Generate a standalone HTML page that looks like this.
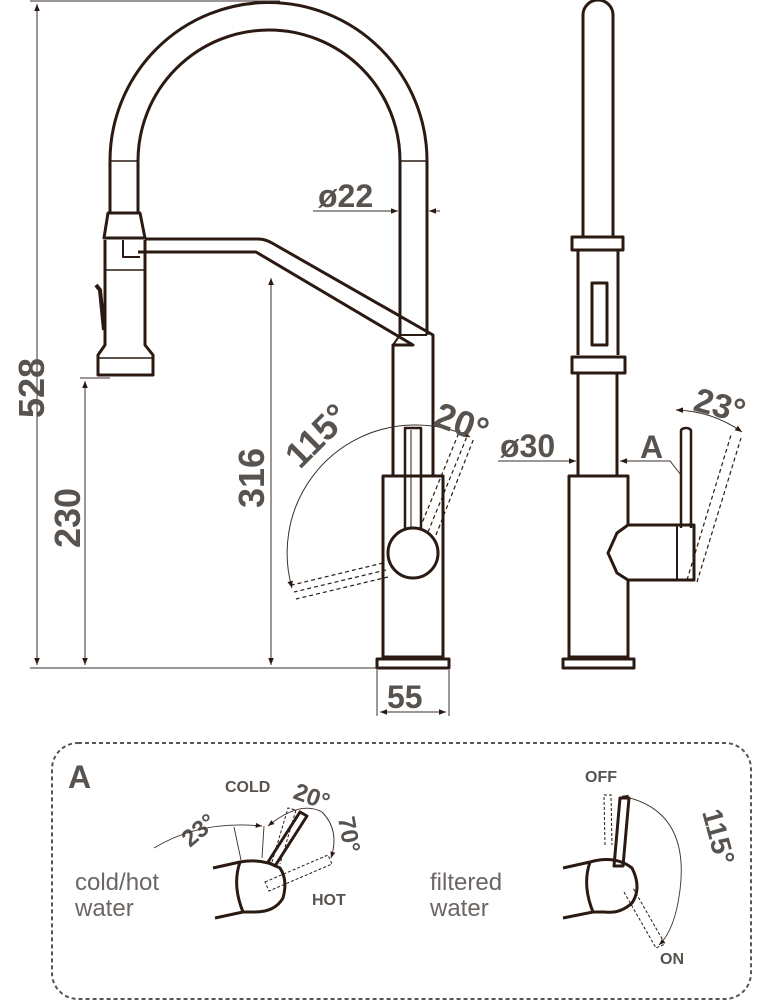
<!DOCTYPE html>
<html><head><meta charset="utf-8"><style>
html,body{margin:0;padding:0;background:#fff;}
svg{display:block;}
.t{font-family:"Liberation Sans",sans-serif;font-weight:bold;fill:#58534f;}
.n{font-family:"Liberation Sans",sans-serif;fill:#6b6663;}
</style></head><body>
<svg width="758" height="1003" viewBox="0 0 758 1003" xmlns="http://www.w3.org/2000/svg">
<defs>
<marker id="ar" viewBox="0 0 10 10" refX="10" refY="5" markerWidth="7" markerHeight="7" orient="auto-start-reverse"><path d="M0,1 L10,5 L0,9z" fill="#2a1a12"/></marker>
</defs>
<g fill="none" stroke="#2a1a12" stroke-width="3" stroke-linejoin="round">
<path d="M110,161 A158.5,158.5 0 0 1 427,161 L427,335"/>
<path d="M138,161 A131,131 0 0 1 400,161 L400,335"/>
<line x1="110" y1="161" x2="138" y2="161" stroke-width="1.5"/>
<line x1="400" y1="161" x2="427" y2="161" stroke-width="1.5"/>
<path d="M110,161 V213 M138,161 V213"/>
<path d="M108,213 H140 L145,238 H104 Z"/>
<path d="M105,240 V345 L98,355 V375 H153 V355 L145,345 V240"/>
<line x1="106" y1="270" x2="144" y2="270" stroke-width="1.5"/>
<line x1="99" y1="358" x2="152" y2="358" stroke-width="1.5"/>
<path d="M96,285 L100,290 L104,330" stroke-width="4"/>
<path d="M145,239 H258 Q265,239 272,243 L433,335 V476"/>
<path d="M138,252 H256 L413,345 L393,345 V476"/>
<path d="M393,345 L400,335 H427" stroke-width="2"/>
<path d="M123,240 V257 H140" stroke-width="2"/>
<path d="M383,476 H443 V657 H383 Z"/>
<path d="M377,659 H449 V668 H377 Z"/>
<circle cx="413" cy="553" r="25" fill="#fff"/>
<path d="M405,528 V428 H421 V528" stroke-width="2.5"/>
<line x1="411" y1="430" x2="411" y2="527" stroke-width="1"/>
<path d="M583,237 V15 A15,15 0 0 1 613,15 V237"/>
<path d="M572,237 H623 V250 H572 Z"/>
<path d="M578,250 V355 M618,250 V355"/>
<rect x="592" y="283" width="15" height="62"/>
<path d="M572,357 H625 V373 H572 Z"/>
<path d="M578,373 V476 M617,373 V476"/>
<path d="M628,525 V476 H569 V657 H628 V580"/>
<path d="M563,659 H634 V668 H563 Z"/>
<path d="M628,525 H694 V580 H628 L617,573 L608,553 L617,533 Z" fill="#fff"/>
<line x1="677" y1="526" x2="677" y2="579" stroke-width="2"/>
<path d="M681,528 V431 A5,3 0 0 1 691,431 V528" stroke-width="2.5"/>
</g>
<g fill="none" stroke="#2a1a12" stroke-width="1.2" stroke-dasharray="4,3">
<path d="M420,528 L460,430 M428,532 L468,434 M436,535 L474,438"/>
<path d="M383,563 L292,585 M386,570 L294,592 M388,577 L296,599"/>
<path d="M687,580 L731,435 M697,582 L741,438"/>
</g>
<g stroke="#3a2f2a" stroke-width="1" fill="none">
<line x1="30" y1="668" x2="380" y2="668"/>
<line x1="30" y1="1" x2="280" y2="1"/>
<line x1="37" y1="4" x2="37" y2="665" marker-start="url(#ar)" marker-end="url(#ar)"/>
<line x1="80" y1="378" x2="110" y2="378"/>
<line x1="85" y1="381" x2="85" y2="665" marker-start="url(#ar)" marker-end="url(#ar)"/>
<line x1="271" y1="278" x2="271" y2="665" marker-start="url(#ar)" marker-end="url(#ar)"/>
<line x1="377" y1="670" x2="377" y2="716"/><line x1="449" y1="670" x2="449" y2="716"/>
<line x1="380" y1="712" x2="446" y2="712" marker-start="url(#ar)" marker-end="url(#ar)"/>
<line x1="313" y1="211" x2="398" y2="211" marker-end="url(#ar)"/>
<line x1="440" y1="211" x2="429" y2="211" marker-end="url(#ar)"/>
<line x1="498" y1="461" x2="576" y2="461" marker-end="url(#ar)"/>
<line x1="640" y1="461" x2="620" y2="461" marker-end="url(#ar)"/>
<path d="M638,461 H670 L681,475"/>
<path d="M292,588 A128,128 0 0 1 413,425 A128,128 0 0 1 470,437" marker-start="url(#ar)" marker-end="url(#ar)"/>
<path d="M676,410 A120,120 0 0 1 742,432" marker-start="url(#ar)" marker-end="url(#ar)"/>
</g>
<text class="t" font-size="36" transform="translate(44,418) rotate(-90)">528</text>
<text class="t" font-size="36" transform="translate(80,548) rotate(-90)">230</text>
<text class="t" font-size="36" transform="translate(264,508) rotate(-90)">316</text>
<text class="t" font-size="36" transform="translate(300,470) rotate(-45)">115°</text>
<text class="t" font-size="36" transform="translate(432,425) rotate(20)">20°</text>
<text class="t" font-size="32" x="318" y="207">ø22</text>
<text class="t" font-size="32" x="387" y="708">55</text>
<text class="t" font-size="32" x="500" y="457">ø30</text>
<text class="t" font-size="32" x="640" y="458">A</text>
<text class="t" font-size="34" transform="translate(692,410) rotate(15)">23°</text>
<rect x="52" y="743" width="699" height="256" rx="26" fill="none" stroke="#555" stroke-width="2" stroke-dasharray="4,3"/>
<text class="t" font-size="32" x="68" y="788">A</text>
<text class="n" font-size="24" x="75" y="890">cold/hot</text>
<text class="n" font-size="24" x="75" y="916">water</text>
<text class="n" font-size="24" x="430" y="890">filtered</text>
<text class="n" font-size="24" x="430" y="916">water</text>
<text class="t" font-size="16" x="225" y="792">COLD</text>
<text class="t" font-size="16" x="312" y="905">HOT</text>
<text class="t" font-size="16" x="585" y="782">OFF</text>
<text class="t" font-size="16" x="660" y="964">ON</text>
<text class="t" font-size="24" transform="translate(292,798) rotate(20)">20°</text>
<text class="t" font-size="24" transform="translate(190,848) rotate(-40)">23°</text>
<text class="t" font-size="24" transform="translate(338,818) rotate(80)">70°</text>
<text class="t" font-size="28" transform="translate(702,812) rotate(75)">115°</text>
<g fill="none" stroke="#2a1a12" stroke-width="3" stroke-linejoin="round">
<path d="M213,868 L240,862 Q262,858 280,868 Q288,880 283,898 Q275,912 255,912 L243,912 L215,918"/>
<path d="M240,862 Q232,885 243,912"/>
<path d="M268,862 L300,812 L307,816 L275,866 Z"/>
<path d="M563,868 L590,862 Q615,855 632,868 Q642,888 632,903 Q620,914 605,912 L593,912 L563,918"/>
<path d="M590,862 Q582,885 593,912"/>
<path d="M614,866 L620,798 L629,798 L623,866 Z"/>
</g>
<g fill="none" stroke="#2a1a12" stroke-width="1" stroke-dasharray="3,2">
<path d="M272,862 L288,808 L296,810 L280,864"/>
<path d="M265,882 L328,855 L332,864 L269,891 Z"/>
<path d="M605,845 L604,795 L611,795 L612,845"/>
<path d="M624,892 L656,948 L665,944 L633,888"/>
</g>
<g fill="none" stroke="#3a2f2a" stroke-width="0.9">
<path d="M241,860 L234,827 M262,858 L264,826"/>
<path d="M154,848 Q200,820 262,826" marker-end="url(#ar)"/>
<path d="M268,826 Q300,800 322,812" marker-start="url(#ar)"/>
<path d="M322,812 Q340,830 331,858" marker-end="url(#ar)"/>
<path d="M622,796 Q690,810 680,890 Q675,930 659,945" marker-start="url(#ar)" marker-end="url(#ar)"/>
</g>
</svg>
</body></html>
